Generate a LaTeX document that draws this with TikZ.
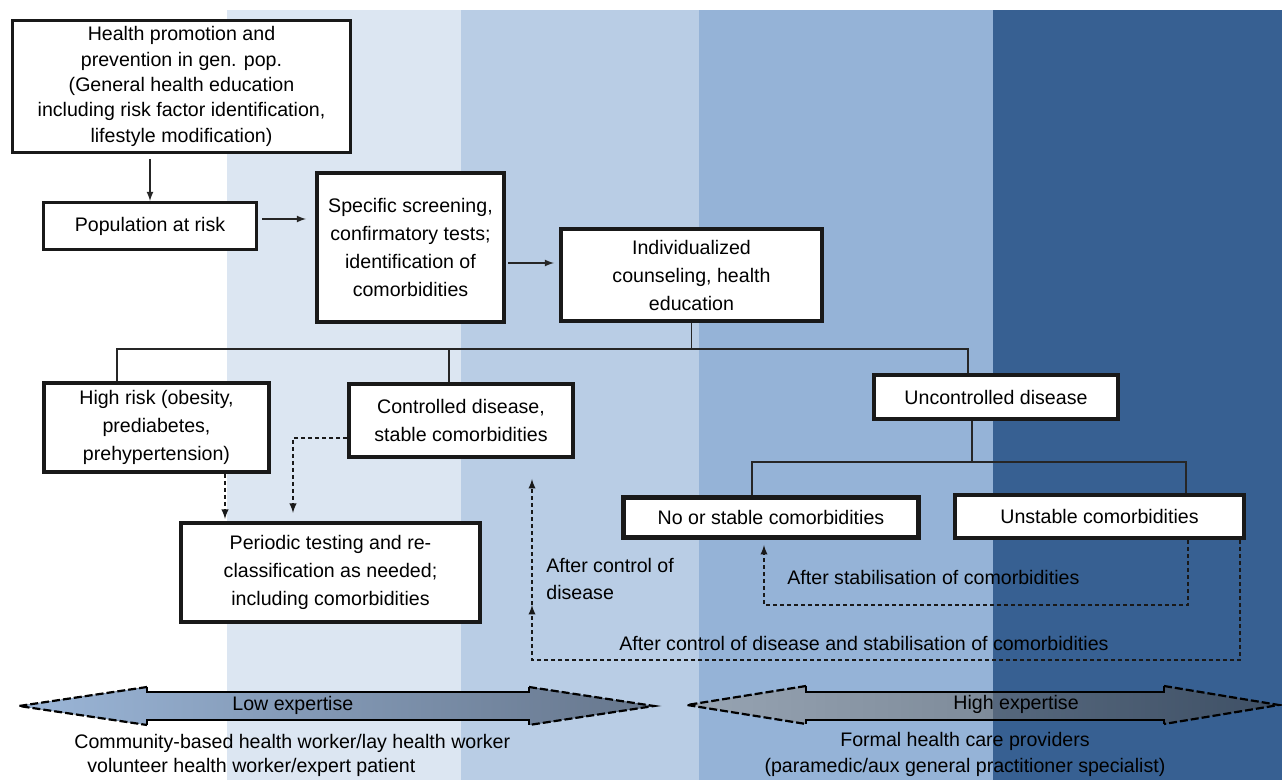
\documentclass[tikz,border=0pt]{standalone}
\usepackage{fontspec}
\setmainfont{Liberation Sans}
\usetikzlibrary{positioning, arrows, calc}
\definecolor{bandone}{HTML}{DCE6F2}
\definecolor{bandtwo}{HTML}{B9CDE5}
\definecolor{bandthree}{HTML}{95B3D7}
\definecolor{bandfour}{HTML}{376092}
\definecolor{lowleft}{HTML}{9BB6D8}
\definecolor{lowright}{HTML}{66768C}

\begin{document}
\begin{tikzpicture}[x=0.5pt, y=-0.5pt,
        block/.style={draw=black!90, fill=white, rectangle, line width=1.3pt, align=center, inner sep=2pt},
        thickblock/.style={block, line width=1.9pt},
        link/.style={draw=black!85, line width=0.6pt},
        back/.style={draw=black!90, line width=0.65pt, dash pattern=on 2pt off 1.5pt},
        lbl/.style={align=left, inner sep=0pt},
        font=\fontsize{9.8}{14}\selectfont, >=latex]

        % Faixas de fundo
        \useasboundingbox (0,0) rectangle (1282,780);
        \foreach \xa/\xb/\c in {227/461/bandone, 461/699/bandtwo, 699/993/bandthree, 993/1282/bandfour}
            \fill[\c] (\xa,10) rectangle (\xb,780);

        % Blocos
        \node (health) [block, minimum width=169.2pt, minimum height=66.2pt, font=\fontsize{9.8}{12.65}\selectfont] at (181.5,86.5)
            {Health promotion and\\prevention in gen. pop.\\(General health education\\including risk factor identification,\\lifestyle modification)};
        \node (pop) [block, minimum width=106.7pt, minimum height=23.7pt, below=23.5pt of health, xshift=-15.75pt] {Population at risk};
        \node (screen) [thickblock, minimum width=93.6pt, minimum height=74.6pt, right=28.5pt of pop, yshift=-10.75pt]
            {Specific screening,\\confirmatory tests;\\identification of\\comorbidities};
        \node (indiv) [thickblock, minimum width=130.6pt, minimum height=46.1pt, right=26.5pt of screen, yshift=-13.75pt]
            {Individualized\\counseling, health\\education};
        \node (risk) [thickblock, minimum width=112.6pt, minimum height=44.6pt, below=65pt of pop, xshift=3.25pt]
            {High risk (obesity,\\prediabetes,\\prehypertension)};
        \node (ctrl) [thickblock, minimum width=112.1pt, minimum height=36.6pt, right=38pt of risk, yshift=3.5pt]
            {Controlled disease,\\stable comorbidities};
        \node (period) [thickblock, minimum width=149.6pt, minimum height=49.6pt, below=23.5pt of risk, xshift=87pt]
            {Periodic testing and re-\\classification as needed;\\including comorbidities};
        \node (unctrl) [thickblock, minimum width=122.1pt, minimum height=22.1pt, right=148.5pt of ctrl, yshift=11.75pt] {Uncontrolled disease};
        \node (nostab) [thickblock, line width=2.3pt, minimum width=147.7pt, minimum height=20.2pt, below=37pt of unctrl, xshift=-112.5pt]
            {No or stable comorbidities};
        \node (unstab) [thickblock, minimum width=144.6pt, minimum height=21.6pt, right=16pt of nostab, yshift=0.5pt]
            {Unstable comorbidities};

        % Conexões
        \draw[link, ->, shorten <=2.5pt] (health.south -| pop.north) -- (pop.north);
        \draw[link, ->, shorten <=2pt, shorten >=4.5pt] ($(pop.east)+(0,-7)$) -- ($(pop.east -| screen.west)+(0,-7)$);
        \draw[link, ->, shorten <=1pt, shorten >=2.5pt] ($(screen.east)+(0,15.5)$) -- ($(screen.east -| indiv.west)+(0,15.5)$);

        % Árvore
        \coordinate (split) at ($(indiv.south)+(0,26)$);
        \draw[link] (indiv.south) -- (split);
        \draw[link] (split) -| ($(risk.north)+(-39.5,0)$);
        \draw[link] (split) -| ($(ctrl.north)+(-12,0)$);
        \draw[link] (split) -| ($(unctrl.north)+(-28,0)$);
        \coordinate (splitb) at ($(unctrl.south)+(-24,41)$);
        \draw[link] ($(unctrl.south)+(-24,0)$) -- (splitb);
        \draw[link] (splitb) -| ($(nostab.north)+(-19,0)$);
        \draw[link] (splitb) -| ($(unstab.north)+(86.5,0)$);

        % Retornos
        \draw[back, ->, shorten >=1pt] ($(risk.south)+(68.5,0)$) -- ($(period.north)+(-105.5,0)$);
        \draw[back, ->, shorten >=4pt] ($(ctrl.west)+(0,17.5)$) -| ($(period.north)+(-37.5,0)$);
        \coordinate (loopa) at ($(nostab.south)+(-7,65)$);
        \draw[back, ->, shorten >=2.5pt] ($(unstab.south)+(88.5,0)$) |- (loopa) -- ($(nostab.south)+(-7,0)$);
        \coordinate (loopb) at ($(ctrl.south)+(71,201)$);
        \coordinate (mid) at ($(ctrl.south)+(71,146)$);
        \draw[back, ->] ($(unstab.south)+(140.5,0)$) |- (loopb) -- (mid);
        \draw[back, ->, shorten >=10pt] (mid) -- ($(ctrl.south)+(71,0)$);

        \node (afterctrl) [lbl, anchor=west, font=\fontsize{9.8}{13.5}\selectfont] at (546,578.5) {After control of\\disease};
        \node (afterstab) [lbl, anchor=west] at (787,577) {After stabilisation of comorbidities};
        \node (afterboth) [lbl, anchor=west] at (619,643) {After control of disease and stabilisation of comorbidities};

        % Setas de competência
        \fill[left color=lowleft, right color=lowright] (19,706) -- (147,687) -- (147,692) -- (529,692) -- (529,687) -- (654,706)
            -- (529,725) -- (529,720) -- (147,720) -- (147,725) -- cycle;
        \draw[line width=1.3pt] (147,687) -- (147,692) -- (529,692) -- (529,687) (147,725) -- (147,720) -- (529,720) -- (529,725);
        \draw[line width=1.1pt, dash pattern=on 4pt off 1.5pt] (147,687) -- (19,706) -- (147,725) (529,687) -- (654,706) -- (529,725);
        \fill[left color=white, right color=black!55, fill opacity=0.35] (687,705) -- (806,686) -- (806,692) -- (1164,692) -- (1164,686)
            -- (1279,705) -- (1164,724) -- (1164,720) -- (806,720) -- (806,724) -- cycle;
        \draw[line width=1.3pt] (806,686) -- (806,692) -- (1164,692) -- (1164,686) (806,724) -- (806,720) -- (1164,720) -- (1164,724);
        \draw[line width=1.1pt, dash pattern=on 4pt off 1.5pt] (806,686) -- (687,705) -- (806,724) (1164,686) -- (1279,705) -- (1164,724);

        \node (low) [lbl, anchor=west] at (232,705) {Low expertise};
        \node (high) [lbl, anchor=west] at (953,704) {High expertise};
        \node (laya) [lbl, anchor=west] at (74,743) {Community-based health worker/lay health worker};
        \node (layb) [lbl, anchor=west] at (87,767) {volunteer health worker/expert patient};
        \node (formal) [align=center, inner sep=0pt, font=\fontsize{9.8}{13}\selectfont] at (965,754)
            {Formal health care providers\\(paramedic/aux general practitioner specialist)};

    \end{tikzpicture}
\end{document}
